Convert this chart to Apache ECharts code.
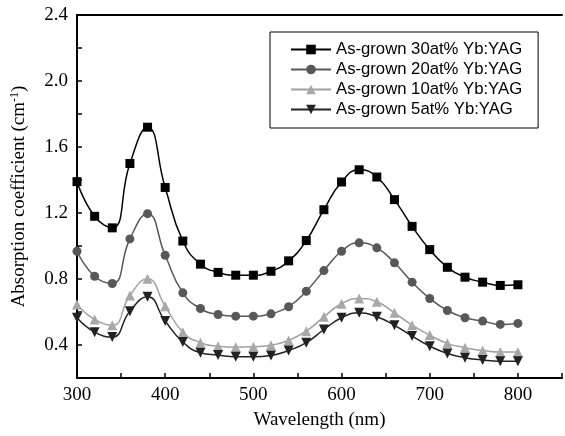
<!DOCTYPE html>
<html>
<head>
<meta charset="utf-8">
<script src="https://cdn.jsdelivr.net/npm/echarts@6/dist/echarts.min.js"></script>
<style>html,body{margin:0;padding:0;background:#fff;}#c{width:565px;height:436px;}</style>
</head>
<body>
<div id="c"></div>
<script>
var wavelengths = [300,320,340,360,380,400,420,440,460,480,500,520,540,560,580,600,620,640,660,680,700,720,740,760,780,800];
var s30 = [1.39,1.18,1.11,1.50,1.72,1.355,1.03,0.89,0.84,0.823,0.823,0.847,0.91,1.033,1.22,1.388,1.462,1.418,1.281,1.119,0.978,0.871,0.811,0.781,0.761,0.765];
var s20 = [0.968,0.817,0.773,1.043,1.196,0.944,0.716,0.621,0.585,0.575,0.575,0.589,0.632,0.726,0.851,0.968,1.019,0.989,0.898,0.781,0.682,0.609,0.565,0.545,0.525,0.531];
var s10 = [0.646,0.555,0.519,0.70,0.801,0.635,0.478,0.414,0.393,0.387,0.39,0.398,0.428,0.484,0.571,0.65,0.682,0.662,0.595,0.52,0.46,0.41,0.384,0.367,0.357,0.357];
var s5  = [0.565,0.478,0.448,0.605,0.692,0.545,0.418,0.353,0.339,0.329,0.329,0.337,0.367,0.414,0.494,0.565,0.595,0.571,0.519,0.454,0.393,0.349,0.323,0.309,0.302,0.302];
var seriesNames = ['As-grown 30at% Yb:YAG','As-grown 20at% Yb:YAG','As-grown 10at% Yb:YAG','As-grown 5at% Yb:YAG'];

function pairs(arr){ return wavelengths.map(function(x,i){ return [x, arr[i]]; }); }

var serif = 'Liberation Serif';
var chart = echarts.init(document.getElementById('c'));
function mk(name, data, color, lineColor, symbol, size, rot){
  return {
    name: name, type: 'line', data: pairs(data), smooth: 0.5,
    symbol: symbol, symbolSize: size, symbolRotate: rot || 0,
    itemStyle: {color: color},
    lineStyle: {color: lineColor, width: 1.5},
    emphasis: {disabled: true}
  };
}
chart.setOption({
  animation: false,
  backgroundColor: '#fff',
  grid: {left: 77, top: 15, right: -3, bottom: 58},
  legend: {
    orient: 'vertical', left: 270, top: 32,
    padding: [9, 16, 10, 20], itemGap: 3, itemWidth: 40, itemHeight: 12,
    borderColor: '#000', borderWidth: 1,
    textStyle: {fontFamily: 'Liberation Sans', fontSize: 16.7, color: '#000'},
    data: seriesNames
  },
  xAxis: [{
    type: 'value', min: 300, max: 850, interval: 50,
    name: 'Wavelength (nm)', nameLocation: 'middle', nameGap: 33,
    nameTextStyle: {fontFamily: serif, fontSize: 19, color: '#000'},
    axisLine: {lineStyle: {color: '#000', width: 2}},
    axisTick: {inside: true, length: 5, lineStyle: {color: '#000', width: 1.5}},
    axisLabel: {fontFamily: serif, fontSize: 19, color: '#000', margin: 8,
      formatter: function(v){ return (v % 100 === 0 && v <= 800) ? String(v) : ''; }},
    splitLine: {show: false}
  }, {
    type: 'value', position: 'top', min: 300, max: 850, interval: 50,
    axisLine: {lineStyle: {color: '#000', width: 2}},
    axisTick: {show: false}, axisLabel: {show: false}, splitLine: {show: false}
  }],
  yAxis: {
    type: 'value', min: 0.2, max: 2.4, interval: 0.2,
    name: 'Absorption coefficient (cm{sup|-1})', nameLocation: 'middle', nameGap: 47, nameRotate: 90,
    nameTextStyle: {fontFamily: serif, fontSize: 19, color: '#000',
      rich: {sup: {fontFamily: serif, fontSize: 12, color: '#000', padding: [0,0,9,0]}}},
    axisLine: {lineStyle: {color: '#000', width: 2}},
    axisTick: {inside: true, length: 5, lineStyle: {color: '#000', width: 1.5}},
    axisLabel: {fontFamily: serif, fontSize: 19, color: '#000', margin: 9,
      formatter: function(v){ var k = Math.round(v*10); return (k % 4 === 0) ? v.toFixed(1) : ''; }},
    splitLine: {show: false}
  },
  series: [
    mk(seriesNames[0], s30, '#000000', '#000000', 'rect', 9),
    mk(seriesNames[1], s20, '#585858', '#585858', 'circle', 9),
    mk(seriesNames[2], s10, '#a8a8a8', '#a0a0a0', 'triangle', 10),
    mk(seriesNames[3], s5, '#222222', '#222222', 'triangle', 10, 180)
  ]
});
</script>
</body>
</html>
